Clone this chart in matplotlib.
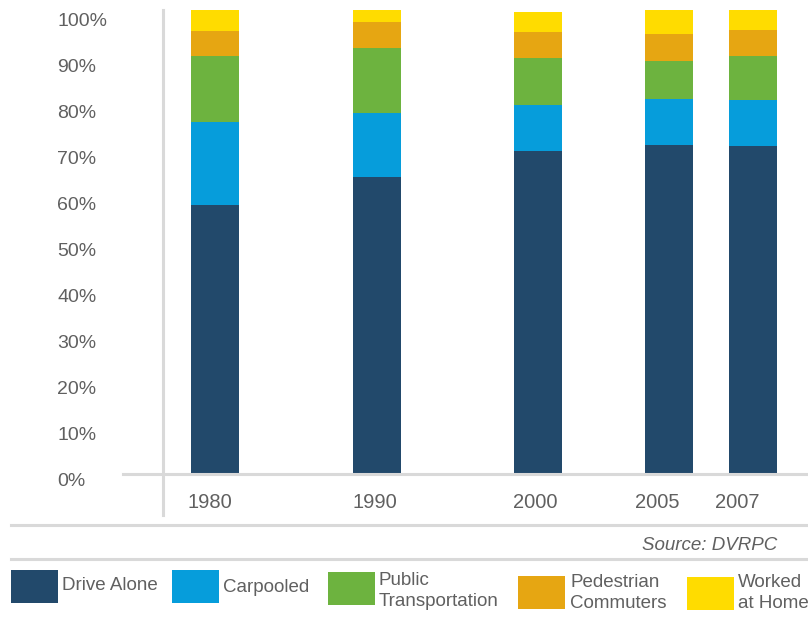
import matplotlib
matplotlib.use("Agg")
import matplotlib.pyplot as plt
import matplotlib.transforms as mtransforms
from matplotlib.patches import Rectangle

plt.rcParams["font.family"] = ["Liberation Sans", "DejaVu Sans"]

# Commute mode share (%) by year
years = ["1980", "1990", "2000", "2005", "2007"]
drive_alone = [58.4, 64.5, 70.1, 71.4, 71.2]
carpooled = [18.0, 13.9, 10.0, 10.0, 10.0]
public_transit = [14.3, 14.1, 10.2, 8.3, 9.6]
pedestrian = [5.6, 5.7, 5.7, 5.8, 5.6]
worked_home = [4.6, 3.0, 4.3, 5.5, 4.6]

series = [drive_alone, carpooled, public_transit, pedestrian, worked_home]
series_names = ["Drive Alone", "Carpooled", "Public\nTransportation",
                "Pedestrian\nCommuters", "Worked\nat Home"]
colors = ["#22496B", "#069DDB", "#6DB33F", "#E6A612", "#FFDC00"]

# layout (axes units ~ pixels from axes left edge)
bar_pos = [92, 254, 415, 546, 630]
label_pos = [87, 252, 412, 534, 614]
bar_width = 48

text_gray = "#606060"
line_gray = "#D9D9D9"

fig = plt.figure(figsize=(8.08, 6.24), dpi=100)
ax = fig.add_axes([123 / 808, 1 - 474 / 624, 685 / 808, 464 / 624])

bottom = [0.0] * len(years)
for vals, col in zip(series, colors):
    ax.bar(bar_pos, vals, width=bar_width, bottom=bottom, color=col,
           linewidth=0)
    bottom = [b + v for b, v in zip(bottom, vals)]

ax.set_xlim(0, 685)
ax.set_ylim(0, 100.8)

for s in ["top", "right", "left"]:
    ax.spines[s].set_visible(False)
ax.spines["bottom"].set_color(line_gray)
ax.spines["bottom"].set_linewidth(2.2)

# vertical axis line, running down through the year labels
ax.axvline(40, ymin=-0.088, ymax=1, color=line_gray, lw=2.2, clip_on=False)

ax.set_yticks(range(0, 101, 10))
ax.set_yticklabels([f"{v}%" for v in range(0, 101, 10)])
ax.tick_params(axis="y", length=0, pad=47.5, labelsize=14,
               labelcolor=text_gray)
offset = mtransforms.ScaledTranslation(0, -0.06, fig.dpi_scale_trans)
for lab in ax.get_yticklabels():
    lab.set_horizontalalignment("left")
    lab.set_transform(lab.get_transform() + offset)

ax.set_xticks(label_pos)
ax.set_xticklabels(years)
ax.tick_params(axis="x", length=0, pad=14, labelsize=14.5,
               labelcolor=text_gray)

# separator lines and source note
fig.add_artist(plt.Line2D([11 / 808, 1], [1 - 525 / 624] * 2,
                          color=line_gray, lw=2.2))
fig.add_artist(plt.Line2D([11 / 808, 1], [1 - 559 / 624] * 2,
                          color=line_gray, lw=2.2))
fig.text(777 / 808, 1 - 545 / 624, "Source: DVRPC", ha="right", va="center",
         fontsize=13.5, style="italic", color=text_gray)

# legend, placed by hand
patch_x = [11, 172, 328, 518, 687]
patch_y = [570, 570, 572, 576, 577]
text_x = [62, 223, 379, 570, 738]
text_y = [585, 588, 591, 593, 593]
for name, col, px, py, tx, ty in zip(series_names, colors, patch_x, patch_y,
                                     text_x, text_y):
    fig.add_artist(Rectangle((px / 808, 1 - (py + 33) / 624), 47 / 808,
                             33 / 624, transform=fig.transFigure,
                             color=col, lw=0))
    fig.text(tx / 808, 1 - ty / 624, name, ha="left", va="center",
             fontsize=13.5, color=text_gray, linespacing=1.3)

fig.savefig("out.png", dpi=100)
